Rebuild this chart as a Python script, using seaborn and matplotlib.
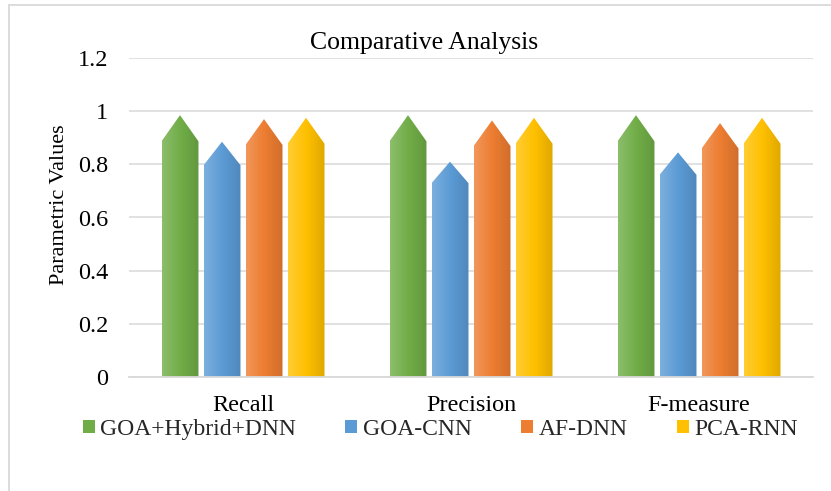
import numpy as np
import pandas as pd
import matplotlib
matplotlib.use('Agg')
import matplotlib.pyplot as plt
import seaborn as sns
from matplotlib.patches import Polygon, Patch
from matplotlib.colors import LinearSegmentedColormap, to_rgb
from matplotlib.lines import Line2D

sns.set_theme(style="white")
plt.rcParams['font.family'] = ['Liberation Serif', 'DejaVu Serif']

# data
metrics = ['Recall', 'Precision', 'F-measure']
models = ['GOA+Hybrid+DNN', 'GOA-CNN', 'AF-DNN', 'PCA-RNN']
goa_hybrid_dnn = [0.985, 0.985, 0.985]
goa_cnn = [0.885, 0.81, 0.845]
af_dnn = [0.97, 0.965, 0.955]
pca_rnn = [0.975, 0.975, 0.975]
colors = ['#70ad47', '#5b9bd5', '#ed7d31', '#ffc000']
y_ticks = [0, 0.2, 0.4, 0.6, 0.8, 1, 1.2]
y_labels = ['0', '0.2', '0.4', '0.6', '0.8', '1', '1.2']

df = pd.DataFrame({
    'metric': metrics * 4,
    'model': np.repeat(models, 3),
    'value': goa_hybrid_dnn + goa_cnn + af_dnn + pca_rnn,
})

fig = plt.figure(figsize=(8.31, 4.91), dpi=100)
ax = fig.add_axes([129 / 831, 114 / 491, 684 / 831, 319 / 491])
sns.barplot(data=df, x='metric', y='value', hue='model', palette=colors,
            saturation=1, width=0.737, gap=0.12, legend=False,
            errorbar=None, ax=ax)


def shade(c):
    r = np.array(to_rgb(c))
    return LinearSegmentedColormap.from_list('s', [r + (1 - r) * 0.2, r, r * 0.88])


# turn each bar into a shaded pentagon
for p in list(ax.patches):
    x0, w, h = p.get_x(), p.get_width(), p.get_height()
    if h <= 0:
        continue
    t = 0.1 * h
    pts = [(x0, 0), (x0, h - t), (x0 + w / 2, h), (x0 + w, h - t), (x0 + w, 0)]
    poly = Polygon(pts, closed=True, facecolor='none', edgecolor='none')
    ax.add_patch(poly)
    img = ax.imshow(np.linspace(0, 1, 64)[None, :], cmap=shade(p.get_facecolor()),
                    extent=(x0, x0 + w, 0, h), aspect='auto', zorder=2,
                    interpolation='bicubic')
    img.set_clip_path(poly)
    p.set_visible(False)

ax.set_xlim(-0.5, 2.5)
ax.set_ylim(0, 1.2)
ax.set_yticks(y_ticks, y_labels)
ax.yaxis.grid(True, color='#d9d9d9', lw=1.1)
ax.set_axisbelow(True)
for s in ['left', 'right', 'top']:
    ax.spines[s].set_visible(False)
ax.spines['bottom'].set_color('#d9d9d9')
ax.spines['bottom'].set_linewidth(1.3)
ax.tick_params(axis='y', length=0, labelsize=17.5, pad=15, labelcolor='black')
ax.tick_params(axis='x', length=0, labelsize=17.5, pad=13, labelcolor='black')
ax.set_xlabel('')
ax.set_ylabel('Parametric Values', fontsize=16, color='black')
ax.yaxis.set_label_coords(-0.087, 0.54)

fig.text(0.510, 0.912, 'Comparative Analysis', ha='center', va='center',
         fontsize=18.5, color='black')

handles = [Patch(facecolor=c, edgecolor='none') for c in colors]
fig.legend(handles, models, loc='center', bbox_to_anchor=(0.530, 0.126), ncol=4,
           frameon=False, fontsize=17, handlelength=0.5, handleheight=0.5,
           handletextpad=0.25, columnspacing=2.08, borderpad=0, borderaxespad=0)

# chart area border (top and left edges visible)
fig.add_artist(Line2D([9 / 831, 9 / 831], [0, 1 - 5 / 491], transform=fig.transFigure,
                      color='#d9d9d9', lw=1.3))
fig.add_artist(Line2D([9 / 831, 1], [1 - 5 / 491, 1 - 5 / 491], transform=fig.transFigure,
                      color='#d9d9d9', lw=1.3))

fig.savefig('out.png', dpi=100)
